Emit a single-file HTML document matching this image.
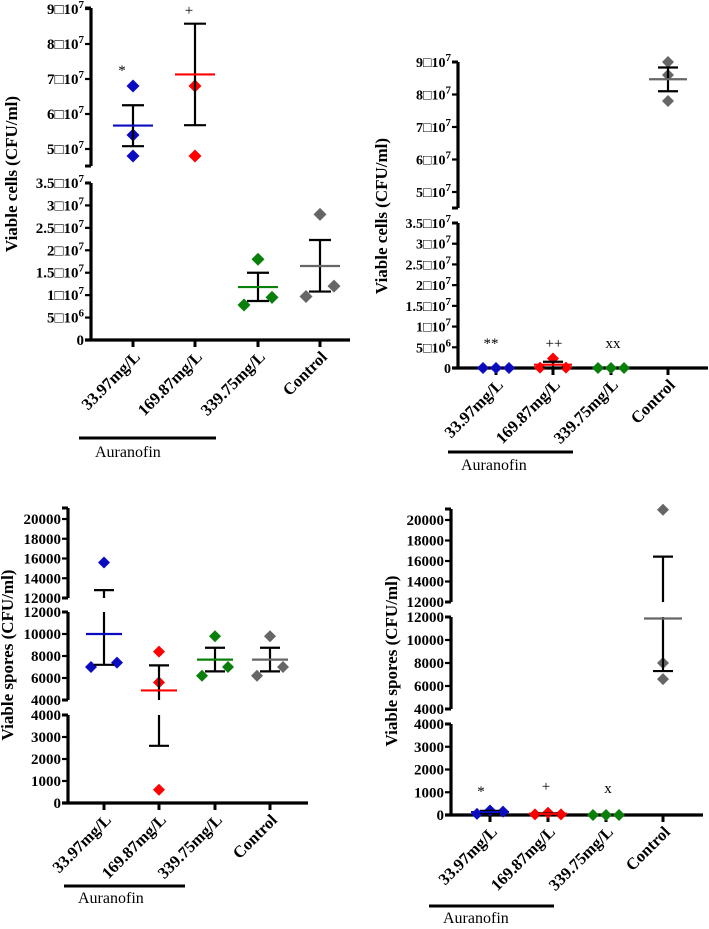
<!DOCTYPE html>
<html><head><meta charset="utf-8"><style>
html,body{margin:0;padding:0;background:#fff;font-family:"Liberation Serif","Times New Roman",Times,serif}
svg{display:block}
</style></head><body>
<svg id="fig" width="709" height="929" viewBox="0 0 709 929" xmlns="http://www.w3.org/2000/svg" style="font-family:'Liberation Serif','Times New Roman',Times,serif"></svg>
<script>
const categories = ["33.97mg/L","169.87mg/L","339.75mg/L","Control"];
const groupColors = ["#0b0bc0","#ff0000","#0a7f0a","#666666"];

// Panel A: viable cells
const cellsA_values = [[68e6,54e6,48e6],[68e6,48e6,98e6],[18e6,9.5e6,7.8e6],[28e6,9.7e6,12e6]];
const cellsA_slots = [[0,0,0],[0,0,0],[0,1,-1],[0,-1,1]];
const cellsA_mean = [56.7e6,71.3e6,11.8e6,16.5e6];
const cellsA_upper = [62.5e6,85.8e6,15e6,22.3e6];
const cellsA_lower = [50.8e6,56.8e6,8.7e6,10.8e6];
const cellsA_ticksLow = [0,5e6,10e6,15e6,20e6,25e6,30e6,35e6];
const cellsA_ticksHigh = [50e6,60e6,70e6,80e6,90e6];
const cellsA_marks = ["*","+","",""];

// Panel B: viable cells
const cellsB_values = [[0,0,0],[0.1e6,2.3e6,0.1e6],[0,0,0],[90e6,86e6,78e6]];
const cellsB_slots = [[-1,0,1],[-1,0,1],[-1,0,1],[0,0,0]];
const cellsB_mean = [0,0.8e6,0,84.7e6];
const cellsB_upper = [0,1.5e6,0,88.3e6];
const cellsB_lower = [0,0.1e6,0,81e6];
const cellsB_marks = ["**","++","xx",""];

// Panel C: viable spores
const sporesC_values = [[15600,7000,7400],[8400,5600,600],[9800,6200,7000],[9800,6200,7000]];
const sporesC_slots = [[0,-1,1],[0,0,0],[0,-1,1],[0,-1,1]];
const sporesC_mean = [10000,4870,7670,7670];
const sporesC_upper = [12800,7150,8750,8750];
const sporesC_lower = [7200,2600,6600,6600];
const sporesC_marks = ["","","",""];
const spores_ticksHigh = [12000,14000,16000,18000,20000];
const spores_ticksMid = [4000,6000,8000,10000,12000];
const spores_ticksLow = [0,1000,2000,3000,4000];

// Panel D: viable spores
const sporesD_values = [[50,200,150],[30,100,30],[0,0,0],[21000,8000,6600]];
const sporesD_slots = [[-1,0,1],[-1,0,1],[-1,0,1],[0,0,0]];
const sporesD_mean = [130,55,0,11870];
const sporesD_upper = [180,80,0,16430];
const sporesD_lower = [80,30,0,7300];
const sporesD_marks = ["*","+","x",""];

const NS="http://www.w3.org/2000/svg";
const FONTSTYLE="font-family:'Liberation Serif','Times New Roman',Times,serif";
const svg=document.getElementById('fig');
function mk(tag,attrs,parent){const e=document.createElementNS(NS,tag);for(const k in attrs)e.setAttribute(k,attrs[k]);if(tag==='text')e.setAttribute('style',FONTSTYLE);(parent||svg).appendChild(e);return e;}

function sciLabel(t,v){
  if(v===0){t.textContent="0";return;}
  const exp=Math.floor(Math.log10(v)+1e-9);
  const m=+(v/Math.pow(10,exp)).toFixed(2);
  const a=document.createElementNS(NS,'tspan');a.textContent=m+"\u25A1"+"10";t.appendChild(a);
  const s=document.createElementNS(NS,'tspan');s.setAttribute('dy','-6');s.setAttribute('font-size','11');s.textContent=String(exp);t.appendChild(s);
}

function panel(p){
  const g=mk('g',{});
  
  
  function segOf(v){for(const s of p.segs){const y=s.p1+(v-s.v1)*(s.p2-s.p1)/(s.v2-s.v1);if(y>=s.top-0.5&&y<=s.bot+0.5)return y;}return null;}
  function vy(s,v){return s.p1+(v-s.v1)*(s.p2-s.p1)/(s.v2-s.v1);}
  p.segs.forEach((s,i)=>{
    const ax=mk('line',{x1:p.ax,y1:s.top,x2:p.ax,y2:s.bot,stroke:'#000','stroke-width':3.2},g);
    
    
    mk('line',{x1:p.ax-6,y1:s.top,x2:p.ax,y2:s.top,stroke:'#000','stroke-width':3},g);
    mk('line',{x1:p.ax-6,y1:s.bot,x2:p.ax,y2:s.bot,stroke:'#000','stroke-width':3},g);
    s.ticks.forEach(v=>{
      const y=vy(s,v);
      const tk=mk('line',{x1:p.ax-6,y1:y,x2:p.ax,y2:y,stroke:'#000','stroke-width':2.2},g);
      
      
      const t=mk('text',{x:p.ax-7,y:y+5,'text-anchor':'end','font-size':p.tfs,'font-weight':'bold'},g);
      if(p.sci)sciLabel(t,v);else t.textContent=String(v);
      
      
    });
  });
  const x0=p.segs[0].p1;
  const xa=mk('line',{x1:p.ax-6,y1:x0,x2:p.xend,y2:x0,stroke:'#000','stroke-width':3.2},g);
  
  
  const yt=mk('text',{x:0,y:0,'text-anchor':'middle','font-size':17,'font-weight':'bold',transform:`translate(${p.titleX},${p.titleY}) rotate(-90)`},g);
  yt.textContent=p.title;
  
  
  categories.forEach((c,i)=>{
    const cx=p.cx[i];
    mk('line',{x1:cx,y1:x0,x2:cx,y2:x0+7,stroke:'#000','stroke-width':3},g);
    const lt=mk('text',{x:0,y:0,'text-anchor':'end','font-size':16.5,'font-weight':'bold',transform:`translate(${cx+8},${x0+18}) rotate(-45)`},g);
    lt.textContent=c;
    
    
    p.vals[i].forEach((v,j)=>{
      const y=segOf(v);if(y===null)return;
      const x=cx+p.slots[i][j]*p.dx;const r=p.r;
      const d=mk('polygon',{points:`${x},${y-r} ${x+r},${y} ${x},${y+r} ${x-r},${y}`,fill:groupColors[i]},g);
      
      
    });
    const lo=p.lower[i],hi=p.upper[i];
    p.segs.forEach(s=>{
      let y1=vy(s,lo),y2=vy(s,hi);
      const a=Math.max(Math.min(y1,y2),s.top),b=Math.min(Math.max(y1,y2),s.bot);
      if(b>a+0.5){const el=mk('line',{x1:cx,y1:a,x2:cx,y2:b,stroke:'#000','stroke-width':2.2},g);
        
        }
    });
    [lo,hi].forEach(v=>{const y=segOf(v);if(y===null||hi===lo)return;
      const cap=mk('line',{x1:cx-p.cap,y1:y,x2:cx+p.cap,y2:y,stroke:'#000','stroke-width':2.2},g);
      
      });
    const my=segOf(p.mean[i]);
    if(my!==null&&p.mean[i]>0){const ml=mk('line',{x1:cx-p.mw,y1:my,x2:cx+p.mw,y2:my,stroke:groupColors[i],'stroke-width':2.2},g);
      
      }
    if(p.marks[i]){const mt=mk('text',{x:p.markPos[i][0],y:p.markPos[i][1],'text-anchor':'middle','font-size':15},g);
      mt.textContent=p.marks[i];
      
      }
  });
  const bl=mk('line',{x1:p.bar[0],y1:p.bar[2],x2:p.bar[1],y2:p.bar[2],stroke:'#000','stroke-width':3},g);
  
  
  const at=mk('text',{x:p.bar[3],y:p.bar[4],'font-size':16},g);
  at.textContent="Auranofin";
  
  
}

panel({name:'panel-a-cells',ax:91,xend:350,sci:true,tfs:15,title:'Viable cells (CFU/ml)',titleX:17,titleY:174,
  segs:[{v1:0,p1:340,v2:35e6,p2:183,top:183,bot:340,ticks:cellsA_ticksLow},
        {v1:50e6,p1:149,v2:90e6,p2:9,top:8,bot:166,ticks:cellsA_ticksHigh}],
  cx:[133,195,258,320],dx:14,r:6.5,cap:11,mw:20,
  vals:cellsA_values,slots:cellsA_slots,mean:cellsA_mean,upper:cellsA_upper,lower:cellsA_lower,
  marks:cellsA_marks,markPos:[[122,75],[189,15]],bar:[79,216,438,95,457]});

panel({name:'panel-b-cells',ax:458,xend:708,sci:true,tfs:14,title:'Viable cells (CFU/ml)',titleX:387,titleY:216,
  segs:[{v1:0,p1:368,v2:35e6,p2:223,top:223,bot:368,ticks:cellsA_ticksLow},
        {v1:50e6,p1:192,v2:90e6,p2:62,top:62,bot:208,ticks:cellsA_ticksHigh}],
  cx:[496,553,611,668],dx:13,r:6,cap:10,mw:19,
  vals:cellsB_values,slots:cellsB_slots,mean:cellsB_mean,upper:cellsB_upper,lower:cellsB_lower,
  marks:cellsB_marks,markPos:[[491,348],[554,348],[613,348]],bar:[448,573,452,461,470]});

panel({name:'panel-c-spores',ax:68,xend:308,sci:false,tfs:15,title:'Viable spores (CFU/ml)',titleX:13,titleY:655,
  segs:[{v1:0,p1:803,v2:4000,p2:715,top:715,bot:803,ticks:spores_ticksLow},
        {v1:4000,p1:700,v2:12000,p2:612,top:612,bot:700,ticks:spores_ticksMid},
        {v1:12000,p1:598,v2:20000,p2:519,top:508,bot:598,ticks:spores_ticksHigh}],
  cx:[104,159,215,270],dx:13,r:6,cap:10,mw:18,
  vals:sporesC_values,slots:sporesC_slots,mean:sporesC_mean,upper:sporesC_upper,lower:sporesC_lower,
  marks:sporesC_marks,markPos:[],bar:[64,185,886,78,903]});

panel({name:'panel-d-spores',ax:451,xend:703,sci:false,tfs:15,title:'Viable spores (CFU/ml)',titleX:397,titleY:661,
  segs:[{v1:0,p1:815,v2:4000,p2:724,top:724,bot:815,ticks:spores_ticksLow},
        {v1:4000,p1:709,v2:12000,p2:617,top:617,bot:709,ticks:spores_ticksMid},
        {v1:12000,p1:602,v2:20000,p2:520,top:509,bot:602,ticks:spores_ticksHigh}],
  cx:[490,548,606,663],dx:13,r:6,cap:10,mw:19,
  vals:sporesD_values,slots:sporesD_slots,mean:sporesD_mean,upper:sporesD_upper,lower:sporesD_lower,
  marks:sporesD_marks,markPos:[[481,796],[546,791],[608,793]],bar:[429,554,906,443,923]});
</script>
</body></html>
